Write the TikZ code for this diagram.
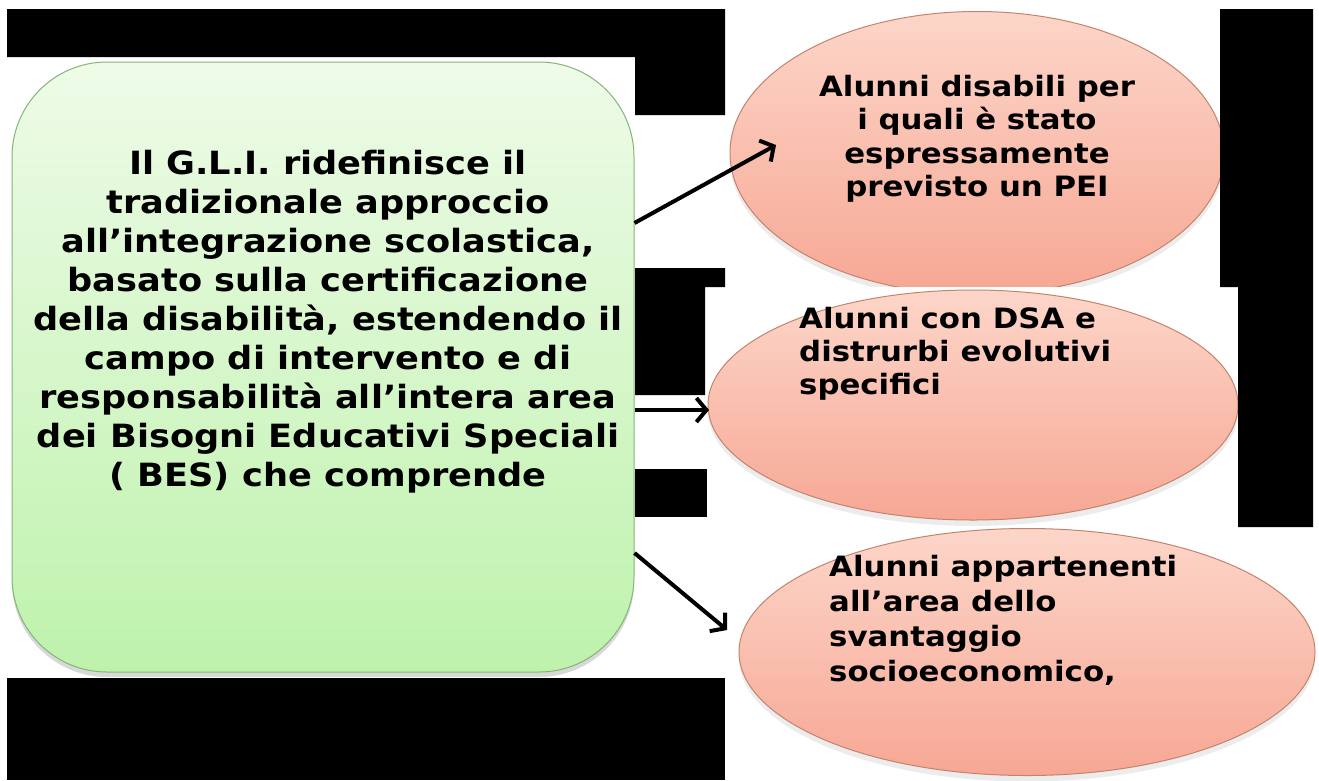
\documentclass[tikz,border=0pt]{standalone}
\usepackage{fontspec}
\setmainfont[FakeStretch=1.1]{DejaVu Sans}
\usetikzlibrary{positioning,shapes.geometric,shadows,arrows.meta}

\definecolor{verdechiaro}{HTML}{EEFBE8}
\definecolor{verdescuro}{HTML}{BEF2AC}
\definecolor{bordoverde}{HTML}{86B478}
\definecolor{rosachiaro}{HTML}{FCD6C9}
\definecolor{rosascuro}{HTML}{F7A794}
\definecolor{bordorosa}{HTML}{C4836C}

\tikzset{
  riquadro/.style={draw=bordoverde, line width=1pt, rounded corners=95pt,
    top color=verdechiaro, bottom color=verdescuro,
    drop shadow={shadow xshift=0pt, shadow yshift=-5pt, opacity=.3}},
  bolla/.style={ellipse, draw=bordorosa, line width=1pt, inner sep=0pt,
    top color=rosachiaro, bottom color=rosascuro,
    drop shadow={shadow xshift=0pt, shadow yshift=-6pt, opacity=.15}},
  testo/.style={font=\fontsize{28}{35}\selectfont\bfseries, inner sep=0pt},
  freccia/.style={line width=4pt, -{Straight Barb[length=10pt, width=24pt, line width=4pt]}}
}

\begin{document}
\begin{tikzpicture}[x=1pt, y=-1pt]
  \useasboundingbox[fill=white] (0,0) rectangle (1319,780);

  % ellipses on the right
  \node[bolla, minimum width=494pt, minimum height=283pt] (disabili) at (977,153) {};
  \fill[white] (705,287) rectangle (1238,527);
  \node[bolla, minimum width=530pt, minimum height=230pt] (dsa) at (973,405) {};
  \node[bolla, minimum width=576pt, minimum height=247pt] (svantaggio) at (1027,652) {};

  % black patches
  \fill[black] (7,9) -- (725,9) -- (725,115) -- (635,115) -- (635,57) -- (7,57) -- cycle;
  \fill[black] (1220,9) -- (1313,9) -- (1313,527) -- (1238,527) -- (1238,287) -- (1220,287) -- cycle;
  \fill[black] (635,268) -- (725,268) -- (725,287) -- (705,287) -- (705,395) -- (635,395) -- cycle;
  \fill[black] (635,469) rectangle (707,517);
  \fill[black] (7,678) rectangle (725,780);

  % green box
  \node[riquadro, minimum width=622pt, minimum height=610pt] (gli) at (323,367) {};

  % texts
  \node[testo, font=\fontsize{32}{39}\selectfont\bfseries, align=center, anchor=north]
    (testogli) at (328,150)
    {Il G.L.I. ridefinisce il\\
     tradizionale approccio\\
     all’integrazione scolastica,\\
     basato sulla certificazione\\
     della disabilità, estendendo il\\
     campo di intervento e di\\
     responsabilità all’intera area\\
     dei Bisogni Educativi Speciali\\
     ( BES) che comprende};
  \node[testo, font=\fontsize{28}{33.5}\selectfont\bfseries, align=center, anchor=north]
    (testo1) at (977,75)
    {Alunni disabili per\\ i quali è stato\\ espressamente\\ previsto un PEI};
  \node[testo, font=\fontsize{28}{33}\selectfont\bfseries, align=left, anchor=north west]
    (testo2) at (799,307)
    {Alunni con DSA e\\ distrurbi evolutivi\\ specifici};
  \node[testo, align=left, anchor=north west] (testo3) at (829,555)
    {Alunni appartenenti\\ all’area dello\\ svantaggio\\ socioeconomico,};

  % arrows
  \coordinate (p1) at (776,145);
  \coordinate (p2) at (709,410);
  \coordinate (p3) at (727,630);
  \draw[freccia] (gli.east |- 0,223) -- (p1);
  \draw[freccia] (gli.east |- 0,410) -- (p2);
  \draw[freccia] (gli.east |- 0,553) -- (p3);
\end{tikzpicture}
\end{document}
